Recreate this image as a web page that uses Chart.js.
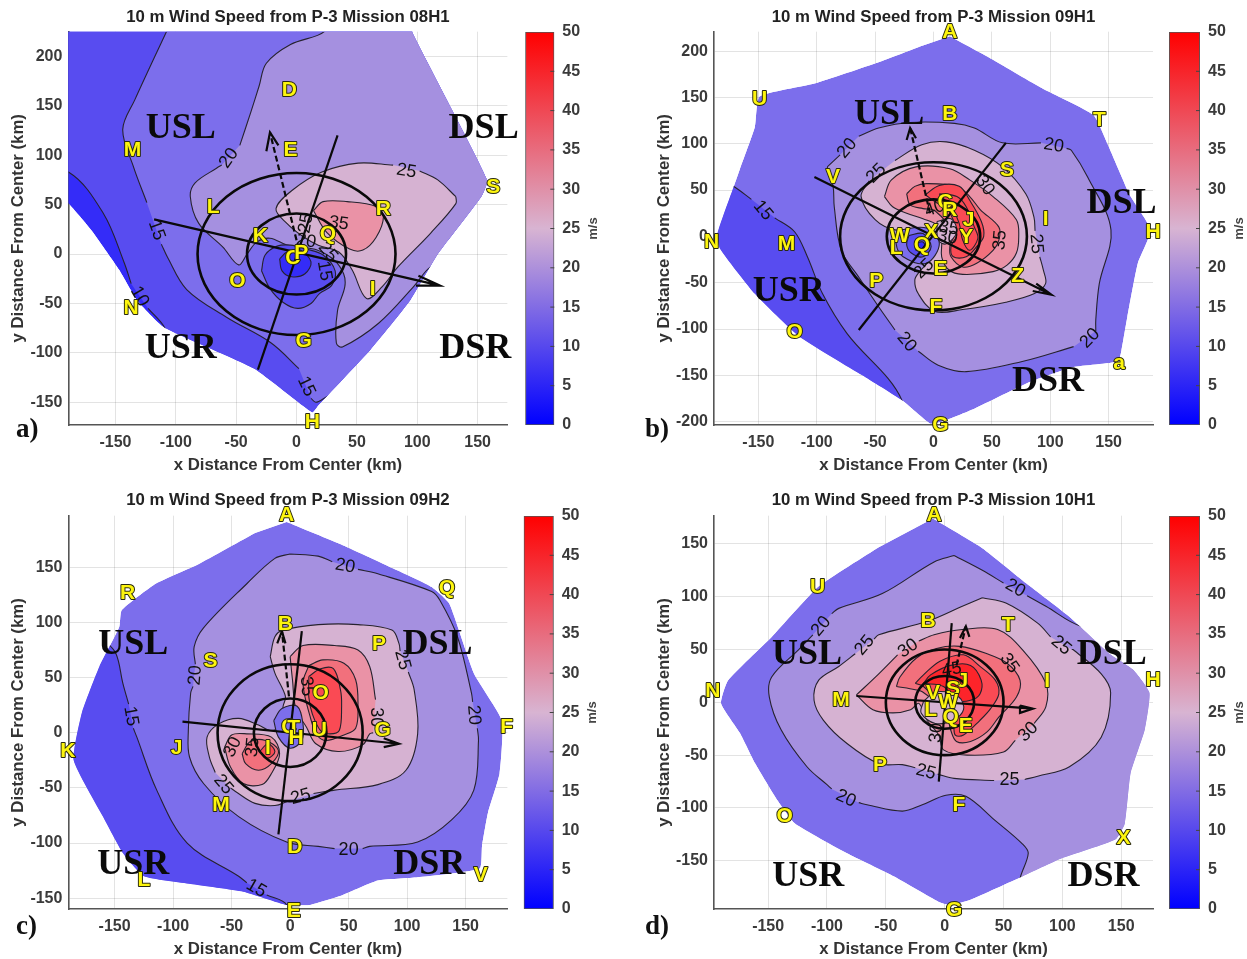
<!DOCTYPE html>
<html lang="en">
  <head>
    <meta charset="UTF-8" />
    <title>10 m Wind Speed from P-3 Missions</title>
    <script src="https://cdn.jsdelivr.net/npm/chart.js"></script>
    <style>
      html, body { margin: 0; padding: 0; background: #fff; }
      body { position: relative; width: 1247px; height: 959px; overflow: hidden; }
      canvas { position: absolute; filter: blur(0.5px); }
      .tag { position: absolute; font: bold 27px "Liberation Serif"; color: #111; }
    </style>
  </head>
  <body>
    <script>
      // fill colour of each contour band, keyed by its lower level (m/s)
      const levelColors = {
        5: "rgb(52,44,248)", 10: "rgb(88,76,240)", 15: "rgb(124,110,236)", 20: "rgb(165,144,224)",
        25: "rgb(214,178,210)", 30: "rgb(234,146,166)", 35: "rgb(242,112,124)", 40: "rgb(250,74,84)", 45: "rgb(253,36,42)",
      };
      const colorbarStops = [[0, "rgb(0,0,255)"], [0.5, "rgb(216,180,210)"], [1, "rgb(255,0,0)"]];
      const colorbarTicks = [0, 5, 10, 15, 20, 25, 30, 35, 40, 45, 50];

      const xTicks = [-150, -100, -50, 0, 50, 100, 150];
      const yTicksA = [-150, -100, -50, 0, 50, 100, 150, 200];
      const yTicksB = [-200, -150, -100, -50, 0, 50, 100, 150, 200];
      const yTicksC = [-150, -100, -50, 0, 50, 100, 150];
      const yTicksD = [-150, -100, -50, 0, 50, 100, 150];

      // ---- panel a, mission 08H1 (km). null = gap in the contour line for its label
      const domainA = [[-195, 232], [96, 232], [96, 224], [158, 75], [153, 58], [117, 0], [94, -47], [61, -97], [18, -153], [13, -160], [-35, -116], [-110, -74], [-132, -47], [-147, -16], [-170, 24], [-189, 51], [-195, 53]];
      const contour10A = [[-240, 100], [-189, 83], [-160, 41], [-143, -8], [-137, -30], null, [-123, -55], [-109, -75], [-100, -110], [40, -240], [240, -240], [240, 260], [-240, 260]];
      const contour15A = [[-102, 240], [-134, 156], [-144, 126], [-135, 88], [-124, 52], null, [-112, 10], [-107, -3], [-91, -36], [-58, -64], [-21, -90], [2, -116], null, [12, -146], [16, -150], [28, -145], [40, -240], [240, -240], [240, 260], [-102, 260]];
      const contour20A = [[23, 240], [23, 225], [-5, 212], [-25, 193], [-31, 170], [-38, 143], [-47, 110], null, [-62, 90], [-66, 87], [-84, 72], [-88, 58], [-81, 31], [-61, 7], [-48, -11], [-41, 0], [-33, 12], [-22, 16], [-8, 9], [3, 7], [17, 4], [31, -6], [39, -20], [40, -33], [34, -57], [33, -90], [38, -94], [68, -70], [97, -33], [111, -13], [134, 0], [240, 0], [240, 260], [23, 260]];
      const contour25A = [[132, 58], [117, 75], [102, 84], null, [80, 90], [51, 92], [21, 83], [-3, 65], [-17, 46], [-8, 31], [5, 18], [18, 9], [35, 2], [46, -16], [58, -45], [71, -33], [84, -13], [111, 21], [132, 51]];
      const contour30A = [[14, 44], [22, 53], [42, 53], [66, 48], [72, 38], [66, 17], [55, 4], [44, 5], [25, 22]];
      const pocket15A = [[-29, -17], [-26, -1], [-16, 8], [-5, 9], [8, 5], [22, -1], [32, -17], [29, -32], [19, -40], [12, -50], [1, -55], [-11, -49], [-22, -35]];
      const pocket10A = [[-14, -5], [-8, 2], [3, 4], [12, -8], [7, -20], [-4, -23], [-12, -17]];
      const ringsA = [82, 41];
      const spokeA = [[-32, -117], [34, 120]];
      const shearA = [[-118, 35], [119, -32], null, [101, -22], [119, -32], [99, -32]];
      const motionA = [[0, 14], [-22, 123]];
      const motionHeadA = [[-25, 104], [-22, 123], [-15, 110]];
      const lettersA = [["D", -6, 166], ["E", -5, 105], ["M", -136, 105], ["L", -69, 47], ["K", -30, 18], ["C", -3, -4], ["P", 4, 1], ["Q", 26, 20], ["R", 72, 45], ["S", 163, 68], ["O", -49, -28], ["I", 63, -36], ["N", -137, -55], ["G", 6, -88], ["H", 13, -170]];
      const regionsA = [["USL", -96, 127], ["DSL", 155, 127], ["USR", -96, -96], ["DSR", 148, -96]];
      const contourLabelsA = [["20", -56, 97, -55], ["15", -116, 24, 70], ["10", -130, -43, 60], ["15", 8, -134, 65], ["25", 91, 84, 10], ["35", 35, 31, 8], ["15", 23, -17, 80], ["25", 26, 2, 50], ["25", 8, 31, -80], ["20", 8, 13, 10]];

      // ---- panel b, mission 09H1
      const domainB = [[14, 216], [52, 190], [93, 160], [137, 131], [149, 100], [168, 45], [186, 7], [175, -29], [166, -87], [161, -123], [158, -135], [120, -141], [83, -157], [35, -186], [7, -200], [-3, -202], [-27, -177], [-61, -150], [-115, -108], [-153, -62], [-183, -13], [-185, 3], [-171, 54], [-166, 72], [-153, 118], [-149, 151], [-102, 165], [-47, 188], [-9, 206]];
      const contour15B = [[-180, 60], [-170, 53], [-156, 40], null, [-136, 20], [-119, 5], [-108, -22], [-95, -62], [-74, -105], [-27, -177], [-27, -240], [-240, -240], [-240, 60]];
      const contour20B = [[-91, 75], [-80, 88], null, [-64, 108], [-47, 117], [-20, 123], [18, 122], [35, 117], [59, 101], [92, 101], null, [114, 95], [118, 93], [132, 64], [152, 7], [142, -51], [139, -90], [139, -102], null, [120, -119], [76, -135], [28, -146], [4, -139], [-13, -124], null, [-33, -101], [-47, -76], [-64, -44], [-79, -15], [-85, 32], [-86, 54]];
      const contour25B = [[-33, 82], [-10, 99], [11, 102], [35, 93], [59, 75], [79, 46], [86, 21], [87, 6], null, [91, -22], [94, -36], [96, -51], [86, -62], [62, -71], [25, -79], [1, -81], [-13, -62], [-16, -47], [-12, -38], [-3, -25], [0, -10], [-6, 7], [-33, 7], [-50, 18], [-62, 43], [-55, 60], null];
      const contour30B = [[-42, 43], [-36, 61], [-15, 75], [14, 73], [31, 61], [51, 43], [71, 18], [73, 0], [71, -18], [63, -31], [51, -38], [25, -41], [13, -36], [7, -22], [7, -4], [3, 12], [-9, 19], [-23, 25], [-35, 32]];
      const contour35B = [[-23, 46], [-16, 54], [-6, 57], [20, 54], [31, 43], [40, 29], [56, 10], [56, -4], [51, -15], [37, -29], [25, -33], [15, -22], [14, -11], [17, 3], [1, 28], [-9, 30], [-20, 34]];
      const contour40B = [[-7, 45], [5, 55], [22, 54], [31, 39], [41, 16], [43, 0], [37, -11], [28, -22], [17, -22], [15, -11], [20, 3], [11, 32], [3, 36]];
      const contour45B = [[5, 46], [20, 43], [28, 32], [35, 10], [38, -2], [31, -15], [25, -4], [22, 14], [17, 28]];
      const pocket25B = [[3, 16], [15, 19], [20, 5], [11, -8], [4, -4]];
      const pocket20B = [[-29, 7], [-6, 9], [5, -8], [-6, -29], [-26, -22], [-32, -8]];
      const pocket15B = [[-21, 1], [-9, 3], [-2, -11], [-9, -22], [-19, -18], [-23, -9]];
      const pocket10B = [[-16, -8], [-9, -6], [-7, -15], [-15, -15]];
      const ringsB = [80, 40];
      const spokeB = [[-64, -101], [62, 101]];
      const shearB = [[-102, 64], [101, -63], null, [88, -51], [101, -63], [85, -59]];
      const motionB = [[-3, 25], [-20, 117]];
      const motionHeadB = [[-23, 104], [-20, 117], [-15, 106]];
      const lettersB = [["A", 14, 220], ["U", -149, 148], ["B", 14, 132], ["T", 142, 125], ["V", -86, 64], ["S", 63, 71], ["C", 10, 37], ["R", 14, 28], ["J", 30, 18], ["I", 96, 19], ["W", -29, 0], ["X", -2, 4], ["Y", 28, -1], ["L", -32, -13], ["Q", -10, -9], ["N", -190, -6], ["M", -126, -8], ["H", 188, 5], ["E", 6, -35], ["P", -49, -48], ["Z", 72, -43], ["F", 2, -76], ["O", -119, -103], ["a", 159, -137], ["G", 6, -204]];
      const regionsB = [["USL", -38, 131], ["DSL", 161, 35], ["USR", -124, -60], ["DSR", 98, -157]];
      const contourLabelsB = [["20", -74, 95, -50], ["20", 103, 98, 10], ["20", 134, -110, -45], ["20", -23, -114, 50], ["15", -146, 28, 50], ["25", -49, 68, -45], ["30", 44, 55, 55], ["35", 57, -4, -85], ["25", 88, -8, 85], ["25", -8, -35, -45], ["40", 1, 30, -20], ["35", 13, 9, 10], ["30", 12, -1, 10]];

      // ---- panel c, mission 09H2
      const domainC = [[-3, 191], [45, 170], [92, 147], [121, 132], [136, 117], [157, 54], [181, 11], [179, -37], [169, -73], [164, -103], [162, -123], [109, -131], [75, -134], [45, -147], [17, -156], [-3, -156], [-40, -144], [-85, -137], [-125, -130], [-143, -109], [-160, -76], [-185, -25], [-178, 18], [-163, 60], [-146, 96], [-144, 111], [-115, 135], [-78, 153], [-30, 181]];
      const contour15C = [[-160, 85], [-149, 72], [-143, 45], [-138, 26], null, [-134, 4], [-131, -4], [-114, -52], [-88, -100], [-44, -130], [-37, -136], null, [-20, -147], [-3, -156], [-3, -180], [-240, -180], [-240, 85]];
      const contour20C = [[0, 162], [-13, 158], [-37, 135], [-74, 95], [-82, 78], [-81, 62], null, [-83, 42], [-85, 36], [-87, 2], [-86, -22], [-74, -46], [-44, -76], [-3, -99], [24, -103], [38, -105], null, [62, -105], [68, -103], [109, -99], [138, -79], [157, -52], [161, -7], [160, 4], null, [156, 28], [155, 36], [143, 87], [128, 120], [121, 128], [75, 144], [58, 148], null, [36, 155], [24, 160]];
      const contour25C = [[-17, 69], [-13, 87], [-6, 93], [24, 98], [58, 98], [87, 93], [93, 81], [94, 74], null, [101, 55], [106, 39], [109, -1], [99, -34], [75, -47], [38, -52], [20, -55], null, [-2, -62], [-13, -66], [-30, -64], [-47, -53], [-51, -50], null, [-64, -36], [-69, -22], [-71, -4], [-61, 8], [-44, 13], [-27, 7], [-17, 2], [-8, 6], [-6, 24], [-4, 33], [-13, 54]];
      const contour30C = [[0, 69], [11, 79], [38, 79], [58, 75], [68, 60], [73, 30], null, [71, 0], [68, -1], [62, -11], [41, -17], [22, -10], [14, 5], [5, 21], [2, 48]];
      const contour35C = [[16, 61], [28, 66], [46, 63], [56, 48], [58, 24], [56, 4], [46, -2], [31, -7], [23, -2], [17, 15], [11, 45]];
      const contour40C = [[16, 51], [26, 58], [37, 58], [43, 39], [44, 24], [42, 2], [34, -1], [26, 2], [19, 17], [16, 32]];
      const lobe30C = [[-56, -13], [-50, -2], [-37, -1], [-16, -4], [-9, -19], [-16, -37], [-24, -47], [-40, -46], [-51, -31]];
      const lobe35C = [[-41, -19], [-34, -8], [-21, -7], [-10, -16], [-16, -28], [-27, -34], [-38, -28]];
      const lobe40C = [[-26, -17], [-19, -10], [-13, -17], [-19, -23]];
      const pocket15C = [[-14, 11], [-7, 22], [6, 24], [11, 8], [10, -7], [0, -14], [-10, -4]];
      const ringsC = [62, 31];
      const spokeC = [[-10, -92], [10, 92]];
      const shearC = [[-92, 10], [93, -10], null, [80, -5], [93, -10], [80, -13]];
      const motionC = [[-1, 33], [-7, 92]];
      const motionHeadC = [[-11, 81], [-7, 92], [-4, 81]];
      const lettersC = [["A", -3, 197], ["R", -139, 126], ["Q", 134, 131], ["B", -4, 98], ["P", 76, 80], ["S", -68, 65], ["O", 26, 36], ["G", 79, 2], ["F", 185, 5], ["U", 25, 2], ["C", -1, 5], ["T", 3, 4], ["H", 5, -5], ["J", -97, -14], ["I", -19, -14], ["K", -190, -17], ["M", -59, -66], ["D", 4, -104], ["V", 163, -129], ["L", -125, -134], ["E", 3, -162]];
      const regionsC = [["USL", -134, 80], ["DSL", 126, 80], ["USR", -134, -120], ["DSR", 119, -120]];
      const contourLabelsC = [["20", 47, 151, 10], ["20", -81, 52, -85], ["15", -136, 15, 80], ["20", 157, 16, 85], ["20", 50, -106, 0], ["15", -29, -141, 30], ["25", 96, 66, 75], ["30", 73, 14, 90], ["25", -57, -47, 50], ["25", 9, -58, -15], ["30", -49, -13, -65], ["35", -32, -13, -85], ["35", 14, 42, 85]];

      // ---- panel d, mission 10H1
      const domainD = [[-10, 174], [32, 146], [69, 113], [106, 81], [140, 46], [160, 31], [174, 9], [170, -26], [158, -67], [153, -115], [145, -130], [99, -148], [66, -165], [22, -187], [5, -192], [-5, -189], [-43, -165], [-83, -143], [-127, -115], [-142, -93], [-161, -58], [-174, -29], [-190, -1], [-184, 21], [-147, 62], [-107, 110], [-56, 147]];
      const contour20D = [[8, 139], [-9, 133], [-53, 103], [-90, 89], [-96, 84], null, [-112, 64], [-124, 50], [-147, 24], [-149, 5], [-139, -26], [-117, -61], [-100, -78], [-96, -82], null, [-73, -95], [-66, -97], [-36, -103], [-19, -97], [1, -88], [18, -89], [42, -111], [66, -134], [71, -143], [64, -167], [60, -200], [240, -200], [240, 70], [150, 70], [116, 72], [86, 91], [70, 101], null, [50, 113], [32, 125]];
      const contour25D = [[32, 99], [15, 91], [-14, 77], [-56, 64], [-60, 60], null, [-76, 46], [-90, 34], [-107, 21], [-111, 2], [-103, -17], [-83, -39], [-56, -58], [-36, -59], [-25, -62], null, [-6, -68], [8, -72], [42, -74], null, [68, -73], [79, -70], [106, -61], [133, -33], [141, 9], [133, 27], [109, 50], [108, 50], null, [90, 62], [79, 75], [52, 94]];
      const contour30D = [[-75, 7], [-56, 27], [-40, 45], null, [-22, 58], [-9, 64], [15, 69], [45, 69], [66, 50], [86, 18], [86, -4], [76, -20], null, [60, -36], [50, -47], [19, -50], [-1, -45], [-5, -31], [-15, -17], [-22, -1], [-29, -7], [-44, -10], [-61, -7]];
      const contour35D = [[-41, 15], [-38, 24], [-24, 42], [-7, 51], [13, 53], [36, 46], [53, 37], [64, 21], [61, 5], [46, -14], [36, -28], [22, -37], [10, -37], [5, -26], [3, -17], [-4, -4], [-19, 10], [-25, 12]];
      const contour40D = [[-25, 18], [-18, 26], [-4, 39], [16, 45], [30, 34], [43, 21], [46, 8], [39, -6], [30, -17], [16, -31], [9, -31], [7, -20], [-4, -2], [-18, 15]];
      const contour45D = [[-18, 18], [-12, 26], [5, 35], [22, 35], [31, 21], [30, 8], [22, 2], [10, 2], [-1, 15]];
      const pocket25D = [[-18, 1], [-7, 10], [12, 5], [16, -7], [7, -17], [-8, -20], [-20, -10]];
      const ringsD = [50, 25];
      const spokeD = [[6, 75], [-5, -75]];
      const shearD = [[-75, 6], [75, -6], null, [64, -3], [75, -6], [64, -10], [64, -3]];
      const motionD = [[10, 35], [18, 72]];
      const motionHeadD = [[13, 61], [18, 72], [21, 62]];
      const lettersD = [["A", -9, 177], ["U", -108, 109], ["B", -14, 77], ["T", 54, 73], ["N", -197, 11], ["H", 177, 21], ["I", 87, 20], ["J", 15, 20], ["S", 7, 12], ["V", -10, 9], ["W", 3, 0], ["M", -88, 2], ["L", -12, -7], ["Q", 5, -14], ["E", 18, -23], ["P", -55, -60], ["F", 12, -97], ["O", -136, -108], ["X", 152, -129], ["G", 8, -197]];
      const regionsD = [["USL", -117, 45], ["DSL", 142, 45], ["USR", -116, -165], ["DSR", 135, -165]];
      const contourLabelsD = [["20", -105, 72, -50], ["20", 60, 108, 30], ["20", -84, -91, 25], ["25", -68, 54, -50], ["25", 99, 54, 40], ["25", -16, -66, 15], ["25", 55, -74, 0], ["30", -31, 51, -35], ["30", 71, -28, -45], ["35", 55, 37, 55], ["45", 6, 31, -10], ["30", -7, -29, -85]];

      // page layout of the four panels
      const panels = [
        {
          title: "10 m Wind Speed from P-3 Mission 08H1", tag: "a)", tagPos: [16, 413],
          box: { left: 0, top: 0, width: 524, height: 480, plotLeft: 68.4, plotRight: 507.4, xAxisH: 55, titlePad: [7, 4.5], xTitlePad: 5, yTitlePad: 8 },
          bar: { left: 525.3, width: 29, top: 31.7, bottom: 425 },
          xRange: [-189, 174.7], yRange: [-173, 225], yTicks: yTicksA, domainLevel: 5,
          layers: [[contour10A, 10], [contour15A, 15], [contour20A, 20], [contour25A, 25], [contour30A, 30], [pocket15A, 10], [pocket10A, 5]],
          domain: domainA, rings: ringsA, spoke: spokeA, shear: shearA, motion: motionA, motionHead: motionHeadA,
          letters: lettersA, regions: regionsA, contourLabels: contourLabelsA,
        },
        {
          title: "10 m Wind Speed from P-3 Mission 09H1", tag: "b)", tagPos: [645, 413],
          box: { left: 624, top: 0, width: 544, height: 480, plotLeft: 90, plotRight: 529, xAxisH: 55, titlePad: [7, 4.5], xTitlePad: 5, yTitlePad: 30 },
          bar: { left: 1169, width: 31, top: 31.7, bottom: 425 },
          xRange: [-188, 188], yRange: [-203.6, 221], yTicks: yTicksB, domainLevel: 15,
          layers: [[contour15B, 10], [contour20B, 20], [contour25B, 25], [contour30B, 30], [contour35B, 35], [contour40B, 40], [contour45B, 40], [pocket25B, 25], [pocket20B, 15], [pocket15B, 10], [pocket10B, 5]],
          domain: domainB, rings: ringsB, spoke: spokeB, shear: shearB, motion: motionB, motionHead: motionHeadB,
          letters: lettersB, regions: regionsB, contourLabels: contourLabelsB,
        },
        {
          title: "10 m Wind Speed from P-3 Mission 09H2", tag: "c)", tagPos: [16, 910],
          box: { left: 0, top: 480, width: 523, height: 479, plotLeft: 68.4, plotRight: 507.4, xAxisH: 49.7, titlePad: [10, 5.5], xTitlePad: 0, yTitlePad: 8 },
          bar: { left: 523.7, width: 30, top: 515.7, bottom: 909.3 },
          xRange: [-189.5, 185.7], yRange: [-160, 196.7], yTicks: yTicksC, domainLevel: 15,
          layers: [[contour15C, 10], [contour20C, 20], [contour25C, 25], [contour30C, 30], [contour35C, 35], [contour40C, 40], [lobe30C, 30], [lobe35C, 35], [lobe40C, 40], [pocket15C, 15]],
          domain: domainC, rings: ringsC, spoke: spokeC, shear: shearC, motion: motionC, motionHead: motionHeadC,
          letters: lettersC, regions: regionsC, contourLabels: contourLabelsC,
        },
        {
          title: "10 m Wind Speed from P-3 Mission 10H1", tag: "d)", tagPos: [645, 910],
          box: { left: 624, top: 480, width: 544, height: 479, plotLeft: 90, plotRight: 529, xAxisH: 49.7, titlePad: [10, 5.5], xTitlePad: 0, yTitlePad: 30 },
          bar: { left: 1169, width: 31, top: 515.7, bottom: 909.3 },
          xRange: [-196, 177], yRange: [-196, 176.8], yTicks: yTicksD, domainLevel: 15,
          layers: [[contour20D, 20], [contour25D, 25], [contour30D, 30], [contour35D, 35], [contour40D, 40], [contour45D, 45], [pocket25D, 25]],
          domain: domainD, rings: ringsD, spoke: spokeD, shear: shearD, motion: motionD, motionHead: motionHeadD,
          letters: lettersD, regions: regionsD, contourLabels: contourLabelsD,
        },
      ];

      const toPoints = (list) => list.map((p) => (p ? { x: p[0], y: p[1] } : { x: null, y: null }));
      const closed = (list) => (list[list.length - 1] === null ? list.slice(0, -1) : list.concat([list[0]]));

      // trace a dataset's own points, using the bezier handles the line element computed
      function tracePath(ctx, meta) {
        let prev = null;
        let gap = false;
        ctx.beginPath();
        meta.data.forEach((p) => {
          if (p.skip) {
            gap = true;
            return;
          }
          if (!prev) ctx.moveTo(p.x, p.y);
          else if (!gap && prev.cp2x !== undefined && p.cp1x !== undefined) ctx.bezierCurveTo(prev.cp2x, prev.cp2y, p.cp1x, p.cp1y, p.x, p.y);
          else ctx.lineTo(p.x, p.y);
          prev = p;
          gap = false;
        });
        ctx.closePath();
      }

      // fills each contour polygon and keeps it inside the flight domain
      const fieldPlugin = {
        id: "field",
        beforeDatasetDraw(chart, args) {
          const ds = chart.data.datasets[args.index];
          if (ds.level === undefined) return;
          const ctx = chart.ctx;
          const area = chart.chartArea;
          const domainMeta = chart.getDatasetMeta(0);
          domainMeta.dataset.updateControlPoints(area, "x");
          ctx.save();
          ctx.beginPath();
          ctx.rect(area.left, area.top, area.right - area.left, area.bottom - area.top);
          ctx.clip();
          tracePath(ctx, domainMeta);
          ctx.clip();
          args.meta.dataset.updateControlPoints(area, "x");
          tracePath(ctx, args.meta);
          ctx.fillStyle = levelColors[ds.level];
          ctx.fill();
        },
        afterDatasetDraw(chart, args) {
          if (chart.data.datasets[args.index].level !== undefined) chart.ctx.restore();
        },
      };

      function textPlugin(panel) {
        return {
          id: "panelText",
          afterDatasetsDraw(chart) {
            const ctx = chart.ctx;
            const x = chart.scales.x;
            const y = chart.scales.y;
            ctx.save();
            ctx.textAlign = "center";
            ctx.textBaseline = "middle";

            ctx.fillStyle = "#111";
            ctx.font = '18px "Liberation Sans"';
            panel.contourLabels.forEach(([text, vx, vy, angle]) => {
              ctx.save();
              ctx.translate(x.getPixelForValue(vx), y.getPixelForValue(vy));
              ctx.rotate((angle * Math.PI) / 180);
              ctx.fillText(text, 0, 0);
              ctx.restore();
            });

            // radius rings, in km on both axes
            ctx.strokeStyle = "#0a0a0a";
            ctx.lineWidth = 2.6;
            panel.rings.forEach((r) => {
              ctx.beginPath();
              ctx.ellipse(
                x.getPixelForValue(0), y.getPixelForValue(0),
                Math.abs(x.getPixelForValue(r) - x.getPixelForValue(0)),
                Math.abs(y.getPixelForValue(r) - y.getPixelForValue(0)),
                0, 0, Math.PI * 2
              );
              ctx.stroke();
            });

            ctx.fillStyle = "#0a0a0a";
            ctx.font = 'bold 36px "Liberation Serif"';
            panel.regions.forEach(([text, vx, vy]) => {
              ctx.fillText(text, x.getPixelForValue(vx), y.getPixelForValue(vy));
            });

            ctx.font = 'bold 21px "Liberation Sans"';
            ctx.lineJoin = "round";
            ctx.lineWidth = 2;
            ctx.strokeStyle = "#2a2a10";
            ctx.fillStyle = "#fdf50e";
            panel.letters.forEach(([text, vx, vy]) => {
              const px = x.getPixelForValue(vx);
              const py = y.getPixelForValue(vy);
              ctx.strokeText(text, px, py);
              ctx.fillText(text, px, py);
            });
            ctx.restore();
          },
        };
      }

      function addCanvas(left, top, width, height) {
        const canvas = document.createElement("canvas");
        canvas.width = width;
        canvas.height = height;
        canvas.style.left = left + "px";
        canvas.style.top = top + "px";
        canvas.style.width = width + "px";
        canvas.style.height = height + "px";
        document.body.appendChild(canvas);
        return canvas;
      }

      const overlayLine = (list, extra) => ({
        data: toPoints(list), showLine: true, pointRadius: 0, borderColor: "#0a0a0a", borderWidth: 2.2, tension: 0, ...extra,
      });

      function drawPanel(panel) {
        const box = panel.box;
        const layers = [
          { data: toPoints(panel.domain), showLine: true, pointRadius: 0, borderWidth: 0, tension: 0.15, level: panel.domainLevel },
        ];
        panel.layers.forEach(([list, level]) => {
          layers.push({ data: toPoints(closed(list)), showLine: true, pointRadius: 0, borderColor: "#26222e", borderWidth: 1.1, tension: 0.35, level: level });
        });
        layers.push(overlayLine(panel.spoke));
        layers.push(overlayLine(panel.shear));
        layers.push(overlayLine(panel.motion, { borderDash: [6, 3] }));
        layers.push(overlayLine(panel.motionHead));
        // chart.js paints the highest order first
        layers.forEach((d, i) => (d.order = layers.length - i));

        const tickFont = { family: "Liberation Sans", size: 16, weight: "bold" };
        const titleFont = { family: "Liberation Sans", size: 16.8, weight: "bold" };

        new Chart(addCanvas(box.left, box.top, box.width, box.height), {
          type: "scatter",
          data: { datasets: layers },
          plugins: [fieldPlugin, textPlugin(panel)],
          options: {
            responsive: false,
            animation: false,
            events: [],
            layout: { padding: { right: box.width - box.plotRight, left: 0, top: 0, bottom: 0 } },
            plugins: {
              legend: { display: false },
              tooltip: { enabled: false },
              title: {
                display: true,
                fullSize: false,
                text: panel.title,
                color: "#222",
                font: titleFont,
                padding: { top: box.titlePad[0], bottom: box.titlePad[1] },
              },
            },
            scales: {
              x: {
                type: "linear",
                min: panel.xRange[0],
                max: panel.xRange[1],
                afterBuildTicks: (s) => (s.ticks = xTicks.map((v) => ({ value: v }))),
                afterFit: (s) => (s.height = box.xAxisH),
                grid: { color: "rgba(0,0,0,0.11)", drawTicks: false },
                border: { color: "#555", width: 1.6 },
                ticks: { color: "#3a3a3a", font: tickFont, padding: 8, maxRotation: 0, autoSkip: false, callback: (v) => v },
                title: { display: true, text: "x Distance From Center (km)", color: "#333", font: titleFont, padding: { top: 0, bottom: box.xTitlePad } },
              },
              y: {
                type: "linear",
                min: panel.yRange[0],
                max: panel.yRange[1],
                afterBuildTicks: (s) => (s.ticks = panel.yTicks.map((v) => ({ value: v }))),
                afterFit: (s) => (s.width = box.plotLeft),
                grid: { color: "rgba(0,0,0,0.11)", drawTicks: false },
                border: { color: "#555", width: 1.6 },
                ticks: { color: "#3a3a3a", font: tickFont, padding: 6, autoSkip: false, callback: (v) => v },
                title: { display: true, text: "y Distance From Center (km)", color: "#333", font: titleFont, padding: { top: box.yTitlePad, bottom: 0 } },
              },
            },
          },
        });

        drawColorbar(panel, tickFont);

        const tag = document.createElement("div");
        tag.className = "tag";
        tag.textContent = panel.tag;
        tag.style.left = panel.tagPos[0] + "px";
        tag.style.top = panel.tagPos[1] + "px";
        document.body.appendChild(tag);
      }

      function drawColorbar(panel, tickFont) {
        const bar = panel.bar;
        const canvasTop = bar.top - 12;
        const canvasLeft = Math.floor(bar.left) - 1;
        const padLeft = bar.left - canvasLeft;
        const width = 85;
        const height = bar.bottom - bar.top + 24;

        const barTicks = {
          id: "barTicks",
          afterDraw(chart) {
            const ctx = chart.ctx;
            const y = chart.scales.y;
            const right = chart.chartArea.right;
            ctx.save();
            ctx.strokeStyle = "#444";
            ctx.lineWidth = 1;
            colorbarTicks.slice(1, -1).forEach((v) => {
              const py = y.getPixelForValue(v);
              ctx.beginPath();
              ctx.moveTo(right - 4, py);
              ctx.lineTo(right, py);
              ctx.stroke();
            });
            ctx.translate(right + 39, (chart.chartArea.top + chart.chartArea.bottom) / 2);
            ctx.rotate(-Math.PI / 2);
            ctx.fillStyle = "#444";
            ctx.font = 'bold 13px "Liberation Sans"';
            ctx.textAlign = "center";
            ctx.textBaseline = "middle";
            ctx.fillText("m/s", 0, 0);
            ctx.restore();
          },
        };

        new Chart(addCanvas(canvasLeft, canvasTop, width, height), {
          type: "bar",
          data: {
            labels: ["m/s"],
            datasets: [
              {
                data: [[colorbarTicks[0], colorbarTicks[colorbarTicks.length - 1]]],
                barPercentage: 1,
                categoryPercentage: 1,
                borderColor: "#555",
                borderWidth: 1.2,
                borderSkipped: false,
                backgroundColor: (ctx) => {
                  const area = ctx.chart.chartArea;
                  if (!area) return "#888";
                  const g = ctx.chart.ctx.createLinearGradient(0, area.bottom, 0, area.top);
                  colorbarStops.forEach(([at, color]) => g.addColorStop(at, color));
                  return g;
                },
              },
            ],
          },
          plugins: [barTicks],
          options: {
            responsive: false,
            animation: false,
            events: [],
            layout: { padding: { left: padLeft, top: 12, bottom: 12, right: 0 } },
            plugins: { legend: { display: false }, tooltip: { enabled: false } },
            scales: {
              x: { display: false },
              y: {
                position: "right",
                min: 0,
                max: 50,
                afterBuildTicks: (s) => (s.ticks = colorbarTicks.map((v) => ({ value: v }))),
                afterFit: (s) => {
                  s.width = width - padLeft - bar.width;
                  // no inset for the half height of the first and last tick label
                  s.paddingTop = 0;
                  s.paddingBottom = 0;
                },
                grid: { display: false },
                border: { display: false },
                ticks: { color: "#3a3a3a", font: tickFont, padding: 0, autoSkip: false, callback: (v) => v },
              },
            },
          },
        });
      }

      panels.forEach(drawPanel);
    </script>
  </body>
</html>
